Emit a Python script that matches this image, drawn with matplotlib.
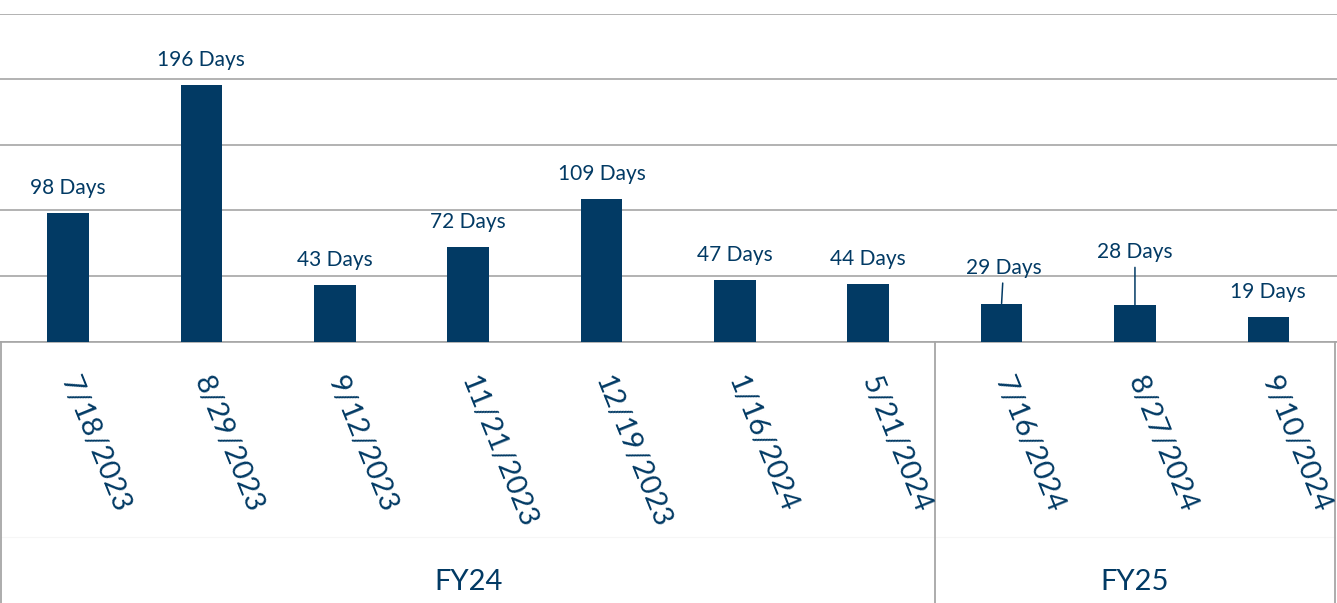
import matplotlib
matplotlib.use("Agg")
import matplotlib.pyplot as plt
import matplotlib.transforms as mtransforms

plt.rcParams['font.family'] = ['Lato', 'DejaVu Sans']

# Data
dates = ["7/18/2023", "8/29/2023", "9/12/2023", "11/21/2023", "12/19/2023",
         "1/16/2024", "5/21/2024", "7/16/2024", "8/27/2024", "9/10/2024"]
days = [98, 196, 43, 72, 109, 47, 44, 29, 28, 19]
fiscal_years = ["FY24", "FY25"]
fy_sizes = [7, 3]

# Style
NAVY = "#023A64"
GRID = "#A6A6A6"
label_lift_px = [25, 25, 25, 25, 25, 25, 25, 36, 53, 25]
label_shift_px = [0, 0, 0, 0, 0, 0, 0, 2, 0, 0]

W, H, DPI = 1337, 603, 100
fig = plt.figure(figsize=(W / DPI, H / DPI), dpi=DPI)
base_px = 341.5
top_px = 14
ax = fig.add_axes([0, (H - base_px) / H, 1, (base_px - top_px) / H])

x = list(range(len(dates)))
ax.bar(x, days, width=0.312, color=NAVY, zorder=3)

ax.set_xlim(-0.51, 9.515)
ax.set_ylim(0, 250)
ax.set_yticks(range(0, 251, 50))
ax.yaxis.grid(True, color=GRID, linewidth=1.2, zorder=0)
ax.set_axisbelow(True)
for s in ["left", "right", "top"]:
    ax.spines[s].set_visible(False)
ax.spines["bottom"].set_color(GRID)
ax.spines["bottom"].set_linewidth(1.2)
ax.tick_params(left=False, bottom=False, labelleft=False, labelbottom=False)

pt = 72 / DPI  # points per pixel

# Value labels
for i, v in enumerate(days):
    leader = label_lift_px[i] > 30
    ax.annotate(f"{v} Days", xy=(i, v), xycoords="data",
                xytext=(label_shift_px[i] * pt, label_lift_px[i] * pt),
                textcoords="offset points", ha="center", va="center",
                fontsize=15, color=NAVY,
                arrowprops=dict(arrowstyle="-", color=NAVY, lw=1.1,
                                shrinkA=2, shrinkB=0) if leader else None)

# Date tick labels
for i, d in enumerate(dates):
    ax.annotate(d, xy=(i, 0), xycoords=("data", "axes fraction"),
                xytext=(0, -36 * pt), textcoords="offset points",
                rotation=-68, rotation_mode="anchor", ha="left", va="center",
                fontsize=21, color=NAVY, annotation_clip=False)

# Fiscal year group labels and box lines
blend = mtransforms.blended_transform_factory(ax.transData, ax.transAxes)
bottom_frac = -(H - base_px + 20) / (base_px - top_px)
edges = [-0.5]
for n in fy_sizes:
    edges.append(edges[-1] + n)
for e in edges:
    ax.plot([e, e], [0, bottom_frac], transform=blend, color=GRID,
            lw=1.3, clip_on=False, zorder=2)
ax.plot([-0.5, 9.5], [-(537 - base_px) / (base_px - top_px)] * 2,
        transform=blend, color="#F6F6F6", lw=0.8, clip_on=False, zorder=1)
for k, fy in enumerate(fiscal_years):
    cx = (edges[k] + edges[k + 1]) / 2
    ax.annotate(fy, xy=(cx, 0), xycoords=("data", "axes fraction"),
                xytext=(0, -(582 - base_px) * pt), textcoords="offset points",
                ha="center", va="center", fontsize=21, color=NAVY,
                annotation_clip=False)

fig.savefig("out.png", dpi=DPI, facecolor="white")
